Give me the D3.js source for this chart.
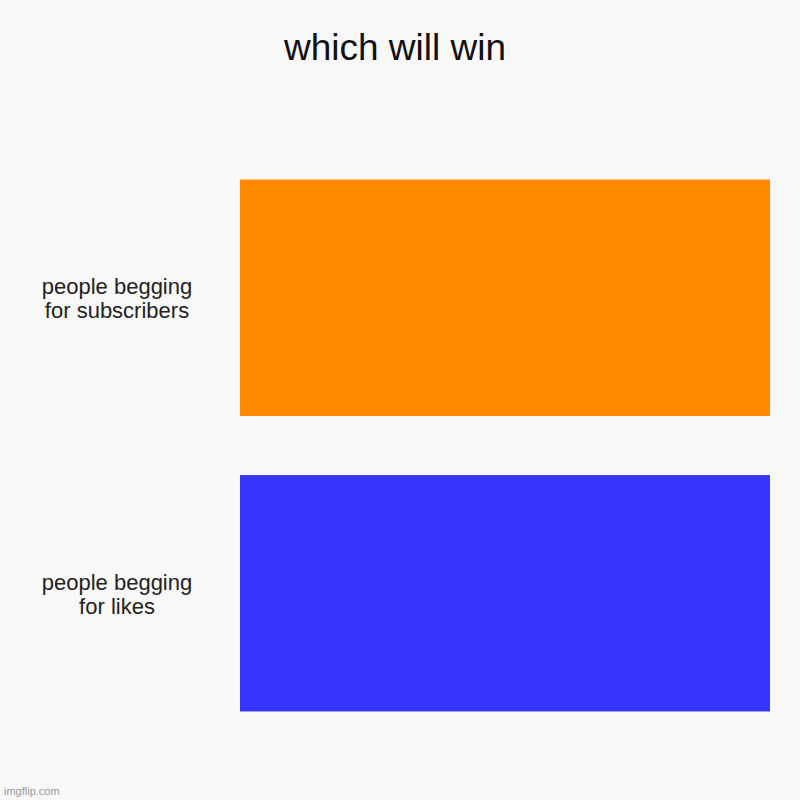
<!DOCTYPE html>
<html>
<head>
<meta charset="utf-8">
<script src="https://cdn.jsdelivr.net/npm/d3@7"></script>
<style>
  body { margin: 0; background: #f8f8f8; }
  svg { display: block; font-family: "Liberation Sans", Arial, sans-serif; }
</style>
</head>
<body>
<div id="chart"></div>
<script>
const categories = [
    ['people begging', 'for subscribers'],
    ['people begging', 'for likes']
];
const values = [1, 1];
const colors = ['#ff8a00', '#3535ff'];
const title = 'which will win';

const width = 800;
const height = 800;

let data = categories.map((c, i) => ({ label: c, value: values[i], color: colors[i] }));

let svg = d3.select('#chart')
            .append('svg')
                .attr('width', width)
                .attr('height', height);

svg.append('rect')
    .attr('width', width)
    .attr('height', height)
    .attr('fill', '#f8f8f8');

let xScale = d3.scaleLinear()
               .domain([0, d3.max(data, d => d.value)])
               .range([240, 770]);

let yScale = d3.scaleBand()
               .domain(data.map((d, i) => i))
               .range([150, 741])
               .paddingInner(0.2)
               .paddingOuter(0.1);

// Barras
svg.selectAll('rect.bar')
    .data(data)
    .enter()
    .append('rect')
        .attr('class', 'bar')
        .attr('x', xScale(0))
        .attr('y', (d, i) => yScale(i))
        .attr('width', d => xScale(d.value) - xScale(0))
        .attr('height', yScale.bandwidth())
        .attr('fill', d => d.color);

// Rotulos
let labels = svg.selectAll('text.label')
    .data(data)
    .enter()
    .append('text')
        .attr('class', 'label')
        .attr('x', 117)
        .attr('y', (d, i) => yScale(i) + yScale.bandwidth() / 2 - 3.5)
        .attr('text-anchor', 'middle')
        .attr('font-size', '22px')
        .attr('fill', '#222');

labels.selectAll('tspan')
    .data(d => d.label)
    .enter()
    .append('tspan')
        .attr('x', 117)
        .attr('dy', (d, i) => i == 0 ? 0 : 24)
        .text(d => d);

// Titulo
svg.append('text')
    .attr('x', 395)
    .attr('y', 60)
    .attr('text-anchor', 'middle')
    .attr('font-size', '37px')
    .attr('fill', '#111')
    .text(title);

svg.append('text')
    .attr('x', 4)
    .attr('y', 795)
    .attr('font-size', '11px')
    .attr('fill', '#999')
    .text('imgflip.com');
</script>
</body>
</html>
